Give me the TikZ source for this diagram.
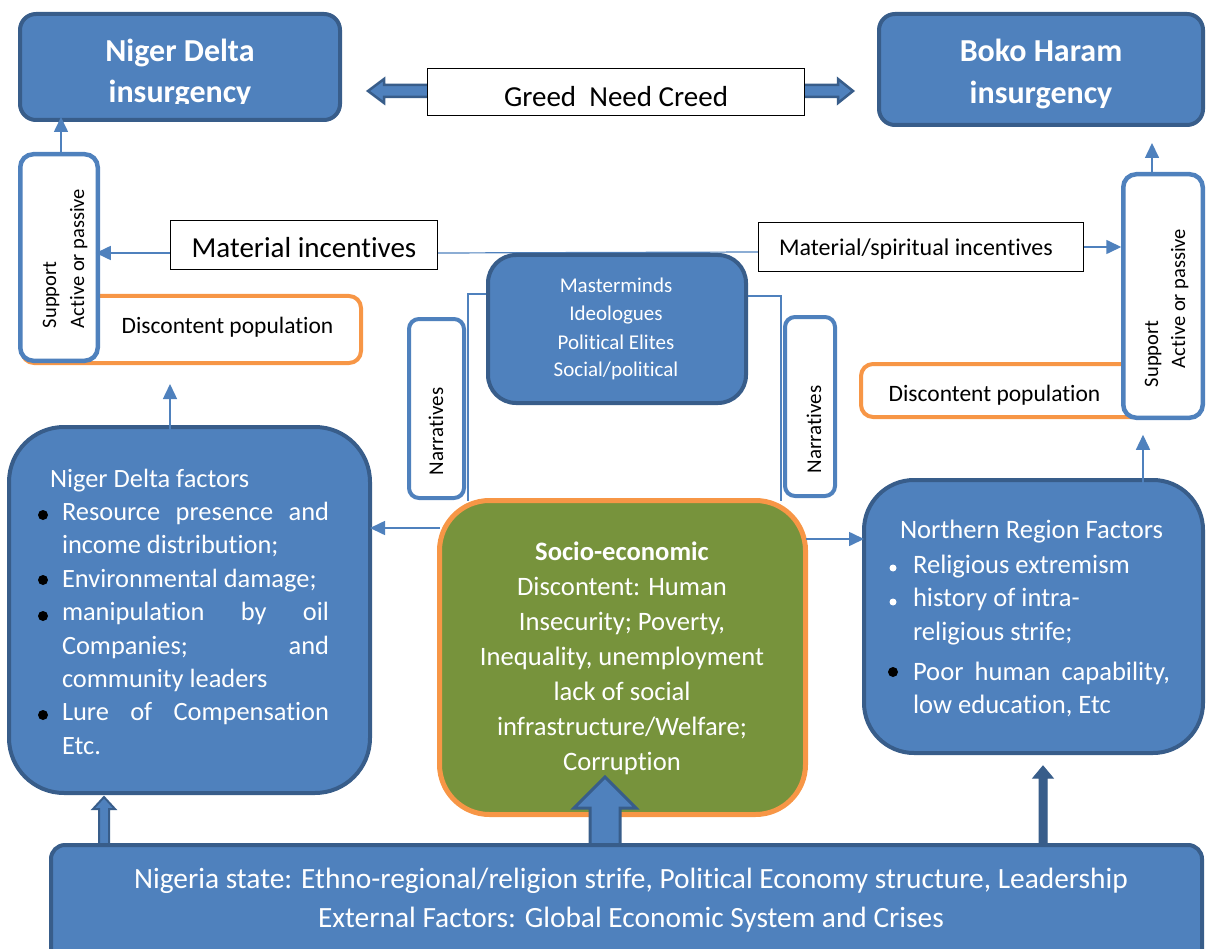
\documentclass[tikz,border=0pt]{standalone}
\usepackage{fontspec}
\setmainfont{Carlito}[Ligatures=NoCommon]
\usetikzlibrary{arrows.meta}
\definecolor{bblue}{HTML}{4F81BD}
\definecolor{bdark}{HTML}{385D8A}
\definecolor{borange}{HTML}{F79646}
\definecolor{bgreen}{HTML}{77933C}
\newcommand\cblock[1]{\vtop{\halign{\hfil##\hfil\cr#1\crcr}}}
\newcommand\lblock[1]{\vtop{\halign{##\hfil\cr#1\crcr}}}
\newcommand\fsz[2]{\fontsize{#1}{#2}\selectfont}
\begin{document}
\begin{tikzpicture}[x=1pt,y=-1pt,
  box/.style={rectangle, inner sep=0pt, outer sep=0pt},
  bluebox/.style={box, fill=bblue, draw=bdark, line width=4pt},
  whitebox/.style={box, fill=white, draw=bblue, line width=4.5pt, rounded corners=13pt},
  orangebox/.style={box, fill=white, draw=borange, line width=4pt, rounded corners=12pt},
  labelbox/.style={box, fill=white, draw=black, line width=1pt},
  txt/.style={inner sep=0pt, outer sep=0pt},
  conn/.style={draw=bblue, line width=1.6pt, -{Triangle[length=15pt,width=14pt]}},
  thinline/.style={draw=bblue, line width=1.2pt},
  blockarrow/.style={fill=bblue, draw=bdark, line width=2.5pt, line join=miter}
]
\useasboundingbox (0,0) rectangle (1206,949);

% Greed / Need / Creed double arrow
\coordinate (gl) at (368,91);
\coordinate (gr) at (853,91);
\draw[blockarrow] (gl) -- ++(16,-12) -- ++(0,6) -- (838,85) -- ++(0,-6) -- (gr)
  -- ++(-15,12) -- ++(0,-6) -- (384,97) -- ++(0,6) -- cycle;
\node[labelbox, minimum width=377pt, minimum height=47pt] (greed) at (616,92) {};
\node[txt, anchor=base, font=\fsz{29}{35}] (greedt) at (616,107) {Greed\ \ Need Creed};

% top boxes
\node[bluebox, rounded corners=16pt, minimum width=320pt, minimum height=106pt] (nd) at (180,67) {};
\begin{scope}
\clip (18,12) rectangle (342,104);
\node[txt, anchor=base, text=white, font=\fsz{32}{41}\bfseries] (ndt) at (180,62) {\cblock{Niger Delta\cr insurgency}};
\end{scope}
\node[bluebox, rounded corners=16pt, minimum width=324pt, minimum height=111pt] (bh) at (1041,69.5) {};
\node[txt, anchor=base, text=white, font=\fsz{32}{42}\bfseries] (bht) at (1041,62) {\cblock{Boko Haram\cr insurgency}};

% incentive line
\node[box, minimum width=267pt, minimum height=49pt] (matL) at (304,245) {};
\node[box, minimum width=325pt, minimum height=49pt] (matR) at (921,247) {};
\node[box, minimum width=258pt, minimum height=148pt] (mm) at (617,329) {};
\node[box, minimum width=366pt, minimum height=314pt] (socio) at (622.5,657.5) {};
\draw[thinline] (matL.east |- 0,253) -- (matR.west |- 0,252);
\draw[thinline] (mm.west |- 0,294) -| (socio.north -| 468,0);
\draw[thinline] (mm.east |- 0,296) -| (socio.north -| 781,0);

% discontent and support boxes
\node[orangebox, minimum width=339pt, minimum height=67pt] (discL) at (191.5,329.5) {};
\node[orangebox, minimum width=302pt, minimum height=53pt] (discR) at (1012,390.5) {};
\node[whitebox, minimum width=77.5pt, minimum height=206.5pt] (supL) at (59,257.5) {};
\node[whitebox, minimum width=79.5pt, minimum height=243.5pt] (supR) at (1163,296) {};
\node[txt, anchor=base, font=\fsz{23.5}{28}] (discLt) at (227.5,333) {Discontent population};
\node[txt, anchor=base, font=\fsz{23.5}{28}] (discRt) at (994.5,401) {Discontent population};
\node[txt, rotate=90, anchor=base west, font=\fsz{20.5}{24}] (supL1) at (56,328) {Support};
\node[txt, rotate=90, anchor=base west, font=\fsz{20.5}{24}] (supL2) at (84,328) {Active or passive};
\node[txt, rotate=90, anchor=base west, font=\fsz{20.5}{24}] (supR1) at (1158,387) {Support};
\node[txt, rotate=90, anchor=base west, font=\fsz{20.5}{24}] (supR2) at (1185,368) {Active or passive};

% arrows to insurgency boxes and incentives
\draw[conn, shorten >=-3pt] (supL.north -| 61,0) -- (nd.south -| 61,0);
\draw[conn, shorten >=18pt] (supR.north -| 1152,0) -- (bh.south -| 1152,0);
\draw[conn, shorten >=-2pt] (matL.west |- 0,253) -- (supL.east |- 0,253);
\draw[conn, shorten >=2pt] (matR.east |- 0,247) -- (supR.west |- 0,247);

\node[labelbox, minimum width=267pt, minimum height=49pt] (matLb) at (304,245) {};
\node[txt, anchor=base, font=\fsz{29}{35}] (matLt) at (304,258) {Material incentives};
\node[labelbox, minimum width=325pt, minimum height=49pt] (matRb) at (921,247) {};
\node[txt, anchor=base, font=\fsz{24}{29}] (matRt) at (916,256) {Material/spiritual incentives};

% masterminds
\node[bluebox, rounded corners=28pt, minimum width=258pt, minimum height=148pt] (mmb) at (617,329) {};
\node[txt, anchor=base, text=white, font=\fsz{21}{28}] (mmt) at (616,293) {\cblock{Masterminds\cr Ideologues\cr Political Elites\cr Social/political}};

% narratives
\node[whitebox, line width=4pt, rounded corners=10pt, minimum width=55pt, minimum height=179pt] (narL) at (436.5,408.5) {};
\node[whitebox, line width=4pt, rounded corners=10pt, minimum width=50pt, minimum height=179pt] (narR) at (810,406.5) {};
\node[txt, rotate=90, anchor=base west, font=\fsz{21}{25}] (narLt) at (443,475) {Narratives};
\node[txt, rotate=90, anchor=base west, font=\fsz{21}{25}] (narRt) at (821,473) {Narratives};

% factor boxes
\node[bluebox, rounded corners=55pt, minimum width=361pt, minimum height=366pt] (ndf) at (189.5,610) {};
\node[bluebox, rounded corners=50pt, minimum width=339pt, minimum height=273pt] (north) at (1033.5,616.5) {};
\node[box, fill=bgreen, draw=borange, line width=5pt, rounded corners=50pt, minimum width=366pt, minimum height=314pt] (sociob) at (622.5,657.5) {};

\node[txt, anchor=base west, text=white, font=\fsz{26.4}{33.4}] (ndft) at (50,487) {\lblock{Niger Delta factors\cr
\hspace*{12pt}\makebox[267pt][s]{Resource presence and}\cr
\hspace*{12pt}income distribution;\cr
\hspace*{12pt}Environmental damage;\cr
\hspace*{12pt}\makebox[267pt][s]{manipulation by oil}\cr
\hspace*{12pt}\makebox[267pt][s]{Companies; and}\cr
\hspace*{12pt}community leaders\cr
\hspace*{12pt}\makebox[267pt][s]{Lure of Compensation}\cr
\hspace*{12pt}Etc.}};
\fill[black] (43,515) circle (5pt) (43,580) circle (5pt) (43,616) circle (5pt) (43,715) circle (5pt);

\node[txt, anchor=base west, text=white, font=\fsz{26.6}{33.5}] (northt) at (900,538) {\lblock{Northern Region Factors\cr\noalign{\vskip1.5pt}
\hspace*{13pt}Religious extremism\cr
\hspace*{13pt}history of intra-\cr
\hspace*{13pt}religious strife;\cr\noalign{\vskip6.5pt}
\hspace*{13pt}\makebox[257pt][s]{Poor human capability,}\cr
\hspace*{13pt}low education, Etc}};
\fill[white] (893,568) circle (3.5pt) (893,602) circle (3.5pt);
\fill[black] (893,672) circle (5pt);

\node[txt, anchor=base, text=white, font=\fsz{26.6}{35}] (sociot) at (622,560) {\cblock{\textbf{Socio-economic}\cr
Discontent: Human\cr Insecurity; Poverty,\cr Inequality, unemployment\cr lack of social\cr infrastructure/Welfare;\cr Corruption}};

% inner connectors
\coordinate (ndfin) at (170,473);
\coordinate (northin) at (1143,510);
\draw[conn, line width=1.4pt, shorten >=21pt] (ndfin) -- (discL.south -| 170,0);
\draw[conn, line width=1.4pt, shorten >=17pt] (northin) -- (supR.south -| 1143,0);
\draw[conn] (sociob.west |- 0,528) -- (ndf.east |- 0,528);
\draw[conn] (sociob.east |- 0,539) -- (north.west |- 0,539);

% block arrows from the bottom box
\coordinate (sa) at (605,777);
\draw[blockarrow, line width=3pt] (sa) -- ++(31,31) -- ++(-16,0) -- ++(0,37) -- ++(-30,0) -- ++(0,-37) -- ++(-16,0) -- cycle;
\coordinate (la) at (104,797);
\draw[blockarrow, line width=2pt] (la) -- ++(11,12) -- ++(-6,0) -- ++(0,36) -- ++(-10,0) -- ++(0,-36) -- ++(-6,0) -- cycle;
\coordinate (ra) at (1043,766);
\draw[blockarrow, fill=bdark, line width=1pt] (ra) -- ++(10,12) -- ++(-6,0) -- ++(0,67) -- ++(-8,0) -- ++(0,-67) -- ++(-6,0) -- cycle;

% bottom box
\node[bluebox, rounded corners=14pt, minimum width=1151pt, minimum height=118pt] (bottom) at (626.5,904) {};
\node[txt, anchor=base, text=white, font=\fsz{29.4}{39}] (bottomt) at (631,888) {\cblock{Nigeria state: Ethno-regional/religion strife, Political Economy structure, Leadership\cr External Factors: Global Economic System and Crises}};
\end{tikzpicture}
\end{document}
